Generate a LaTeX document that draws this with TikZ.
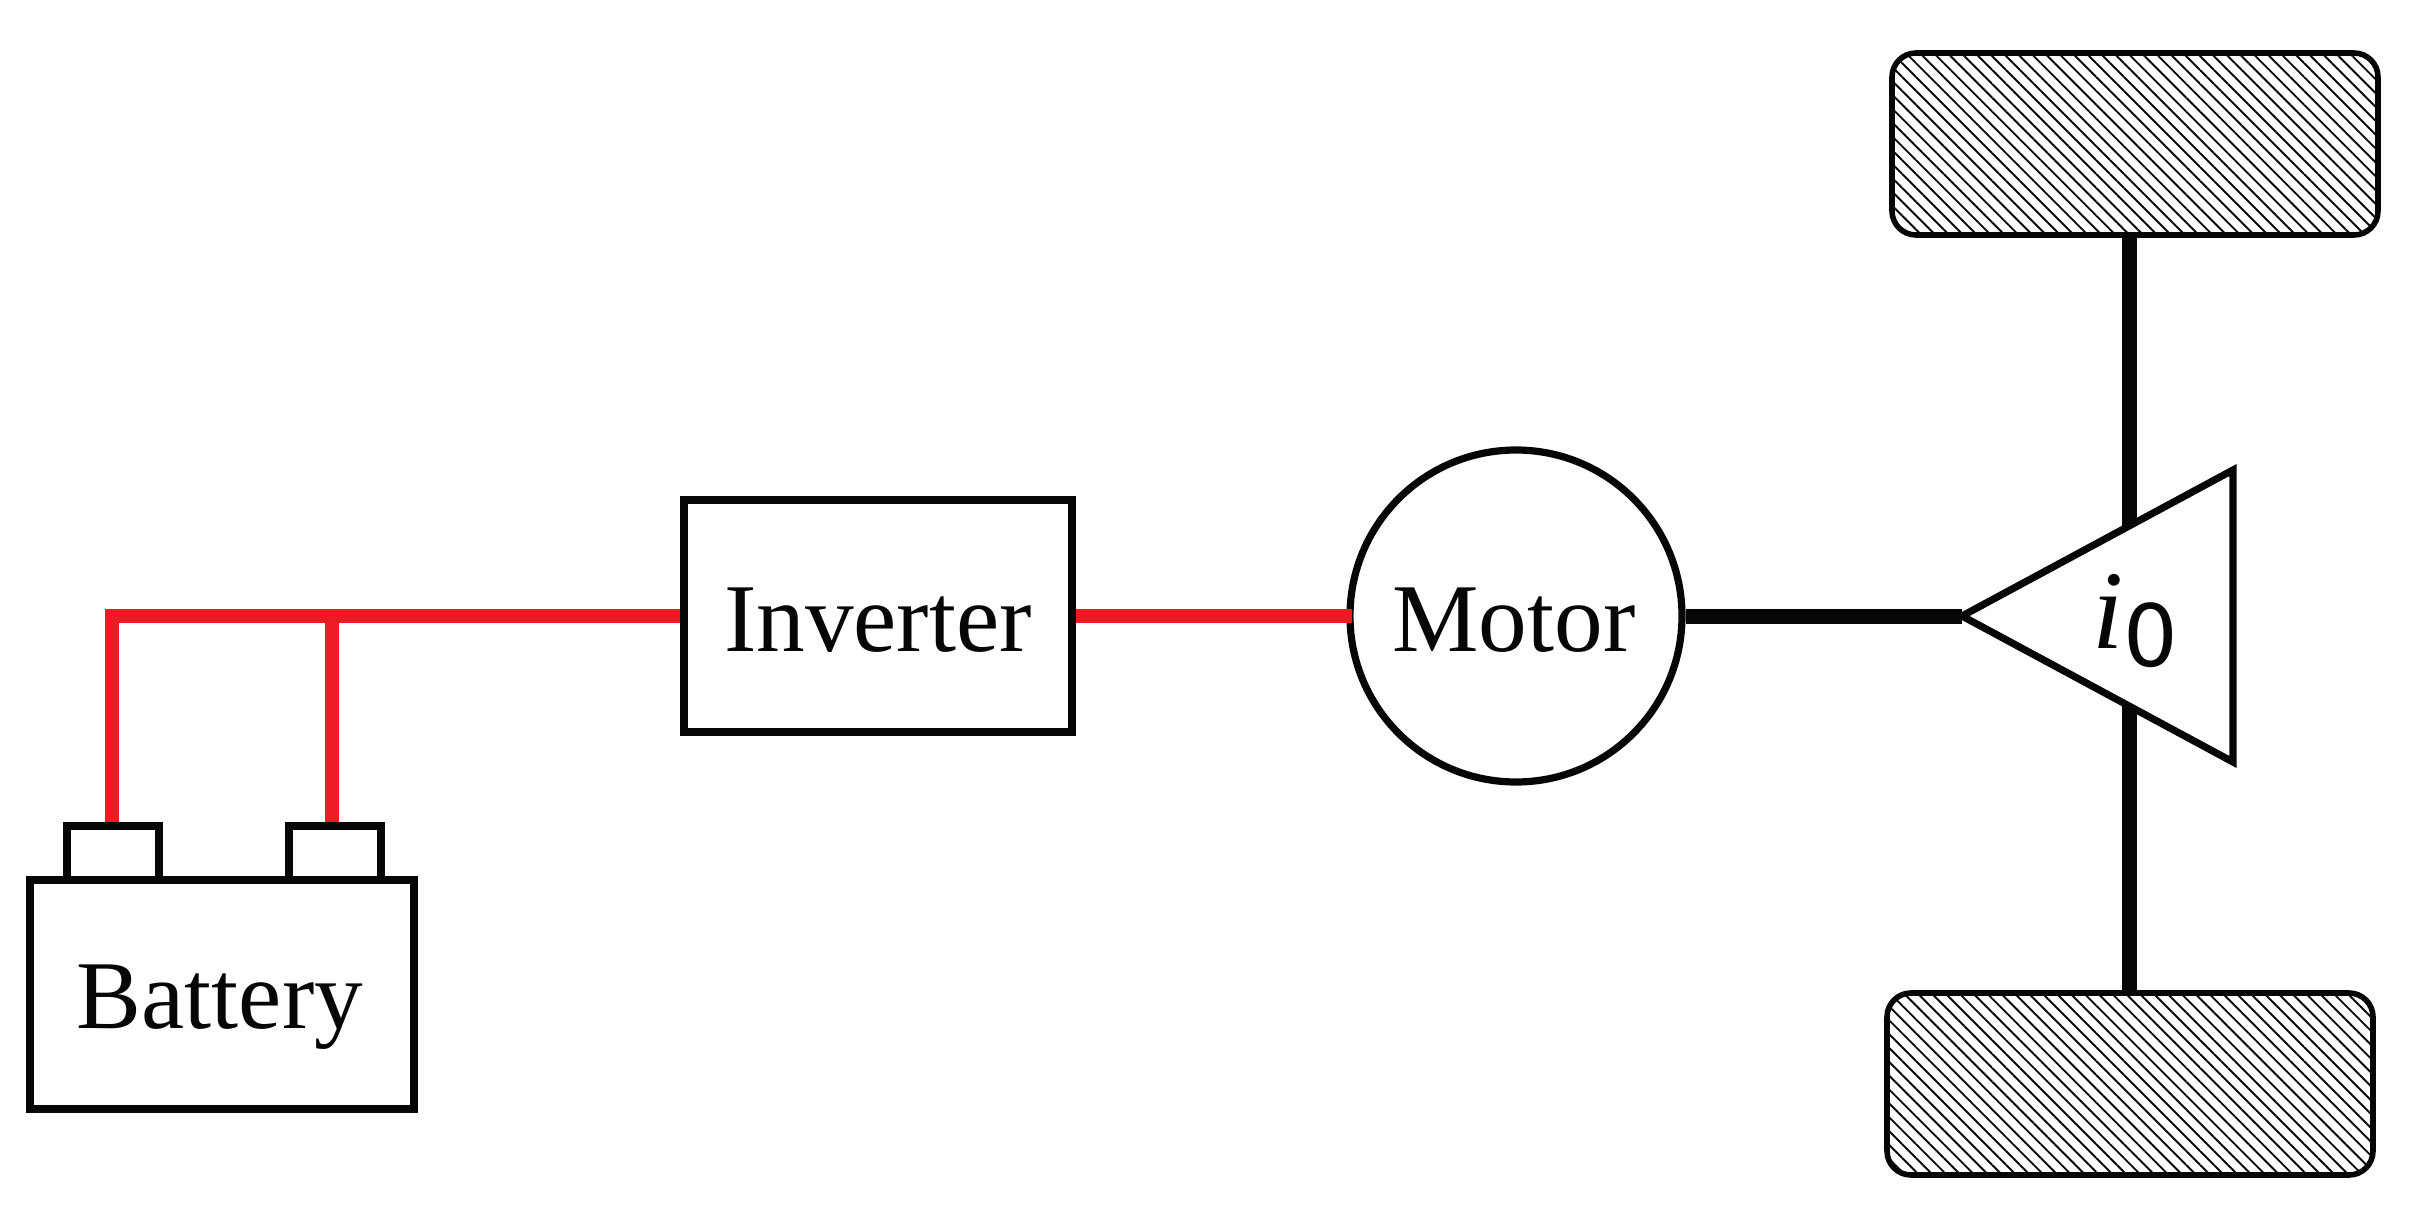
\documentclass[tikz,border=0pt]{standalone}
\usepackage{fontspec}
\setmainfont{Liberation Serif}
\usetikzlibrary{patterns.meta}
\definecolor{wirered}{RGB}{237,28,36}
\definecolor{ink}{RGB}{5,7,6}
\tikzset{
  box/.style={draw=ink,line width=3.6pt,fill=white,rectangle,inner sep=0pt},
  wire/.style={draw=wirered,line width=7.4pt},
  shaft/.style={draw=ink,line width=7.5pt},
  wheel/.style={draw=ink,line width=2.8pt,rectangle,rounded corners=12pt,inner sep=0pt,
    minimum width=243pt,minimum height=91pt,
    pattern={Lines[angle=-45,distance=4.9pt,line width=0.95pt]},pattern color=ink},
  lbl/.style={font=\fontsize{48.6}{48.6}\selectfont,text=ink,inner sep=0pt,anchor=base},
}
\begin{document}
\begin{tikzpicture}[x=0.5pt,y=-0.5pt]
\useasboundingbox (0,0) rectangle (2433,1210);
% battery
\node[box,minimum width=192pt,minimum height=114.5pt] (bat) at (222,994.5) {};
\node[box,minimum width=46pt,minimum height=27pt] (t1) at (113,853) {};
\node[box,minimum width=46pt,minimum height=27pt] (t2) at (335,853) {};
\node[lbl] (batl) at (220,1028) {Battery};
% inverter, motor
\node[box,minimum width=194pt,minimum height=116pt] (inv) at (878,616) {};
\node[lbl] (invl) at (878,651) {Inverter};
\node[box,circle,minimum size=166pt] (mot) at (1516,616) {};
\node[lbl] (motl) at (1514,651) {Motor};
% wheels
\node[wheel] (wt) at (2135,144) {};
\node[wheel] (wb) at (2130,1084) {};
% named points
\coordinate (tip) at (1962,616);
\coordinate (tr) at (2233,470);
\coordinate (br) at (2233,762);
\coordinate (axt) at (2129.5,236);
\coordinate (axb) at (2129.5,994);
\coordinate (bus) at (112,616);
\coordinate (tap) at (332,616);
% connectors
\draw[wire,line join=miter] (inv.west) -- (bus) -- (bus |- t1.north);
\draw[wire] (tap) -- (tap |- t2.north);
\draw[wire] (inv.east) -- ([xshift=3pt]mot.west);
\draw[shaft] (mot.east) -- (tip);
\draw[shaft] (axt) -- (axb);
% final drive
\draw[draw=ink,line width=3.6pt,fill=white,line join=miter] (tip) -- (tr) -- (br) -- cycle;
\node[lbl,anchor=base west] (gear) at (2092,648) {\fontsize{56}{56}\selectfont\textit{i}\raisebox{-9pt}{\fontsize{43}{43}\selectfont\fontspec{DejaVu Sans}0}};
\end{tikzpicture}
\end{document}
